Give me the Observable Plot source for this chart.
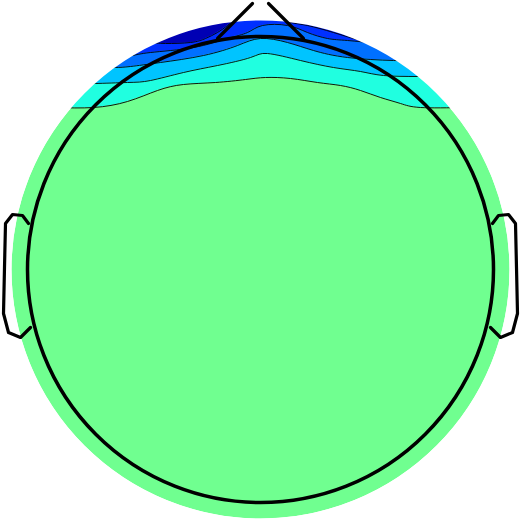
<!DOCTYPE html>
<html><head><meta charset="utf-8">
<script src="https://cdn.jsdelivr.net/npm/d3@7"></script>
<script src="https://cdn.jsdelivr.net/npm/@observablehq/plot@0.6"></script>
<style>body{margin:0;background:#fff}#chart svg{display:block}</style>
</head><body><div id="chart"></div>
<script>
// Contour level boundaries (x, y in picture units), from green upward
const lvl1X = [55, 93, 127, 157, 183, 215, 245, 265, 290, 317, 340, 360, 380, 400, 420, 465];
const lvl1Y = [107, 107, 101, 90, 84, 82, 79, 77, 78, 82, 85, 90, 97, 103, 107, 107];
const lvl2X = [80, 95, 127, 150, 183, 217, 250, 267, 300, 333, 360, 383, 417, 445];
const lvl2Y = [83, 83, 82, 80, 72, 65, 57, 53, 60, 67, 71, 75, 76, 76];
const lvl3X = [100, 115, 130, 160, 203, 237, 260, 287, 313, 347, 393, 425];
const lvl3Y = [67, 67, 66, 62, 55, 45, 38, 42, 50, 57, 60, 60];
const lvl4X = [120, 132, 150, 193, 227, 247, 262, 287, 307, 327, 347, 380, 410];
const lvl4Y = [56, 55, 52, 47, 38, 32, 25, 25, 32, 38, 40, 43, 45];
const lvl5LX = [135, 150, 165, 190, 205, 217, 227, 235];
const lvl5LY = [41, 42, 43, 42, 38, 32, 25, 18];
const lvl5RX = [280, 290, 307, 333, 360, 390];
const lvl5RY = [18, 22, 25, 32, 40, 47];

const levelColors = ["#20ffe0", "#00c4ff", "#0070ff", "#0030ff", "#0000b4", "#0018f0"];
const background = "#70ff90";

// Head outline pieces
const noseLX = [217, 252], noseLY = [38, 3];
const noseRX = [268, 303], noseRY = [3, 38];
const earLX = [28, 22, 12, 5, 4, 3, 8, 20, 30];
const earLY = [223, 215, 214, 223, 267, 313, 332, 337, 327];
const earRX = earLX.map(x => 520 - x);
const earRY = earLY.slice();

const pts = (xs, ys) => xs.map((x, i) => ({x, y: ys[i]}));
const levels = [
  pts(lvl1X, lvl1Y), pts(lvl2X, lvl2Y), pts(lvl3X, lvl3Y),
  pts(lvl4X, lvl4Y), pts(lvl5LX, lvl5LY), pts(lvl5RX, lvl5RY)
];
const center = [{x: 260, y: 269}];

const marks = [
  Plot.dot(center, {x: "x", y: "y", r: 249, fill: background}),
  ...levels.map((d, i) => Plot.areaY(d, {x: "x", y1: 0, y2: "y", fill: levelColors[i], curve: "natural"})),
  ...levels.map(d => Plot.line(d, {x: "x", y: "y", stroke: "black", strokeWidth: 0.9, curve: "natural"})),
  Plot.dot(center, {x: "x", y: "y", r: 399, stroke: "white", strokeWidth: 300, fill: "none"}),
  Plot.dot(center, {x: "x", y: "y", r: 233, stroke: "black", strokeWidth: 3.5, fill: "none"}),
  Plot.line(pts(noseLX, noseLY), {x: "x", y: "y", stroke: "black", strokeWidth: 3.2}),
  Plot.line(pts(noseRX, noseRY), {x: "x", y: "y", stroke: "black", strokeWidth: 3.2}),
  Plot.line(pts(earLX, earLY), {x: "x", y: "y", stroke: "black", strokeWidth: 3.2, strokeLinejoin: "round"}),
  Plot.line(pts(earRX, earRY), {x: "x", y: "y", stroke: "black", strokeWidth: 3.2, strokeLinejoin: "round"})
];

const chart = Plot.plot({
  width: 521, height: 521, margin: 0,
  x: {domain: [0, 521], range: [0, 521], axis: null},
  y: {domain: [0, 521], range: [0, 521], axis: null},
  marks
});
document.getElementById("chart").appendChild(chart);
</script>
</body></html>
